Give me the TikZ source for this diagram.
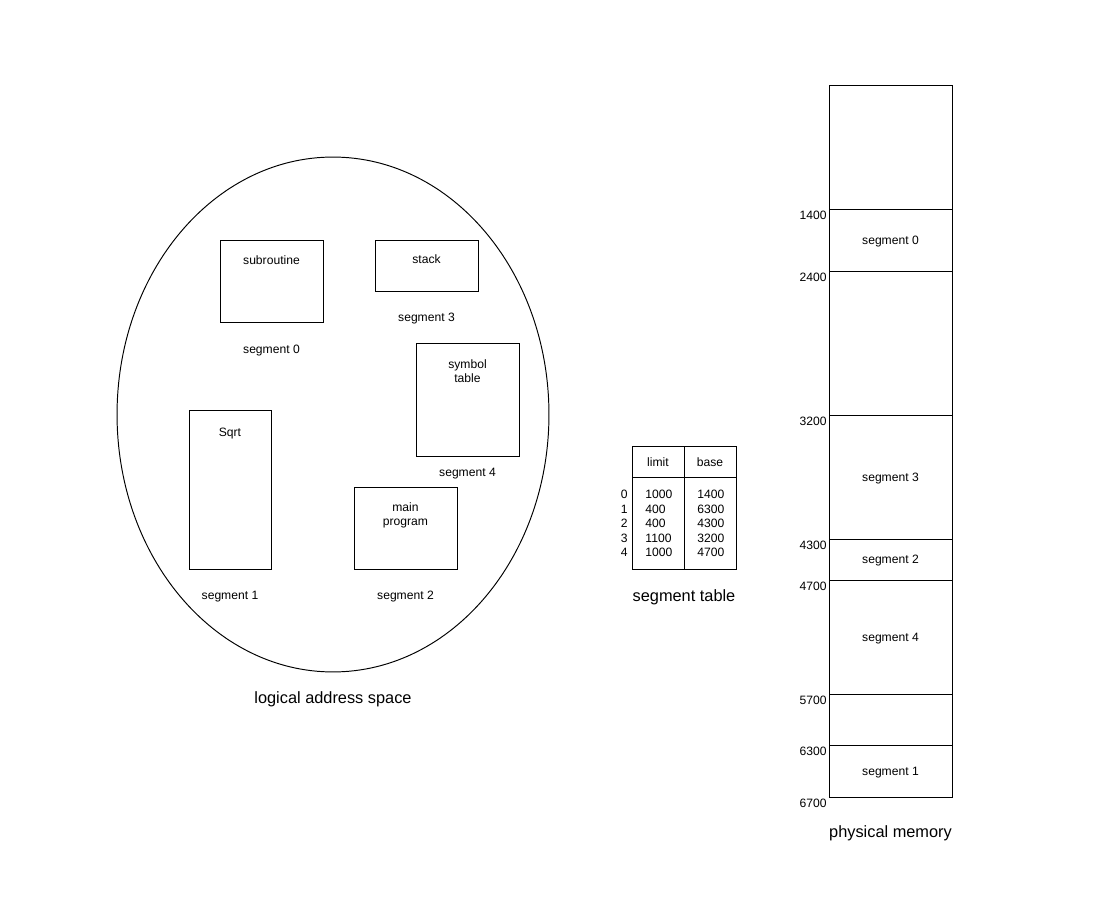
\documentclass[tikz,border=0pt]{standalone}
\usepackage{fontspec}
\setmainfont{Liberation Sans}
\usetikzlibrary{positioning, shapes.geometric}
\begin{document}
\begin{tikzpicture}[x=0.02cm, y=-0.02cm, line width=0.55pt,
  txt/.style={inner sep=0pt, align=center, yshift=-0.8pt, font=\fontsize{6.9}{8.2}\selectfont},
  big/.style={inner sep=0pt, yshift=-0.8pt, font=\fontsize{9.3}{11}\selectfont},
  seg/.style={shape=rectangle, draw=black, line width=0.55pt}]
\useasboundingbox (0,0) rectangle (1096,902);
% logical address space
\node[shape=ellipse, draw=black, minimum width=8.64cm, minimum height=10.3cm] (las) at (333,414.5) {};
\node[seg, minimum width=2.06cm, minimum height=1.64cm] (sub) at (271.5,281) {};
\node[seg, minimum width=2.06cm, minimum height=1.02cm] (stk) at (426.5,265.5) {};
\node[seg, minimum width=2.06cm, minimum height=2.26cm] (sym) at (467.5,399.5) {};
\node[seg, minimum width=1.64cm, minimum height=3.18cm] (sqrt) at (230,489.5) {};
\node[seg, minimum width=2.06cm, minimum height=1.64cm] (main) at (405.5,528) {};
\node[txt] (subT) at (271.5,259) {subroutine};
\node[txt] (stkT) at (426.5,258) {stack};
\node[txt] (symT) at (467.5,370) {symbol\\table};
\node[txt] (sqrtT) at (230,432) {Sqrt};
\node[txt] (mainT) at (405.5,514) {main\\program};
\node[txt] (s0) at (271.5,349) {segment 0};
\node[txt] (s3) at (426.5,317) {segment 3};
\node[txt] (s4) at (467.5,472) {segment 4};
\node[txt] (s1) at (230,595) {segment 1};
\node[txt] (s2) at (405.5,595) {segment 2};
\node[big] (lasT) at (333,698) {logical address space};
% segment table
\draw (632,446) rectangle (736,569);
\draw (632,477) -- (736,477);
\draw (684,446) -- (684,569);
\node[txt] (lim) at (658,461) {limit};
\node[txt] (bas) at (710,461) {base};
\node[txt, anchor=east] (i0) at (628,493) {0};
\node[txt, anchor=east] (i1) at (628,507.5) {1};
\node[txt, anchor=east] (i2) at (628,522) {2};
\node[txt, anchor=east] (i3) at (628,536.5) {3};
\node[txt, anchor=east] (i4) at (628,551) {4};
\node[txt, anchor=west] (l0) at (645,493) {1000};
\node[txt, anchor=west] (l1) at (645,507.5) {400};
\node[txt, anchor=west] (l2) at (645,522) {400};
\node[txt, anchor=west] (l3) at (645,536.5) {1100};
\node[txt, anchor=west] (l4) at (645,551) {1000};
\node[txt, anchor=west] (b0) at (697,493) {1400};
\node[txt, anchor=west] (b1) at (697,507.5) {6300};
\node[txt, anchor=west] (b2) at (697,522) {4300};
\node[txt, anchor=west] (b3) at (697,536.5) {3200};
\node[txt, anchor=west] (b4) at (697,551) {4700};
\node[big] (tabT) at (684,596) {segment table};
% physical memory
\draw (829,85) rectangle (952,797);
\draw (829,209) -- (952,209);
\draw (829,271) -- (952,271);
\draw (829,415) -- (952,415);
\draw (829,539) -- (952,539);
\draw (829,580) -- (952,580);
\draw (829,694) -- (952,694);
\draw (829,745) -- (952,745);
\node[txt, anchor=east] (a1400) at (827,214) {1400};
\node[txt, anchor=east] (a2400) at (827,276) {2400};
\node[txt, anchor=east] (a3200) at (827,420) {3200};
\node[txt, anchor=east] (a4300) at (827,544) {4300};
\node[txt, anchor=east] (a4700) at (827,585) {4700};
\node[txt, anchor=east] (a5700) at (827,699) {5700};
\node[txt, anchor=east] (a6300) at (827,750) {6300};
\node[txt, anchor=east] (a6700) at (827,802) {6700};
\node[txt] (m0) at (890.5,240) {segment 0};
\node[txt] (m3) at (890.5,477) {segment 3};
\node[txt] (m2) at (890.5,559) {segment 2};
\node[txt] (m4) at (890.5,637) {segment 4};
\node[txt] (m1) at (890.5,771) {segment 1};
\node[big] (memT) at (890.5,832) {physical memory};
\end{tikzpicture}
\end{document}
